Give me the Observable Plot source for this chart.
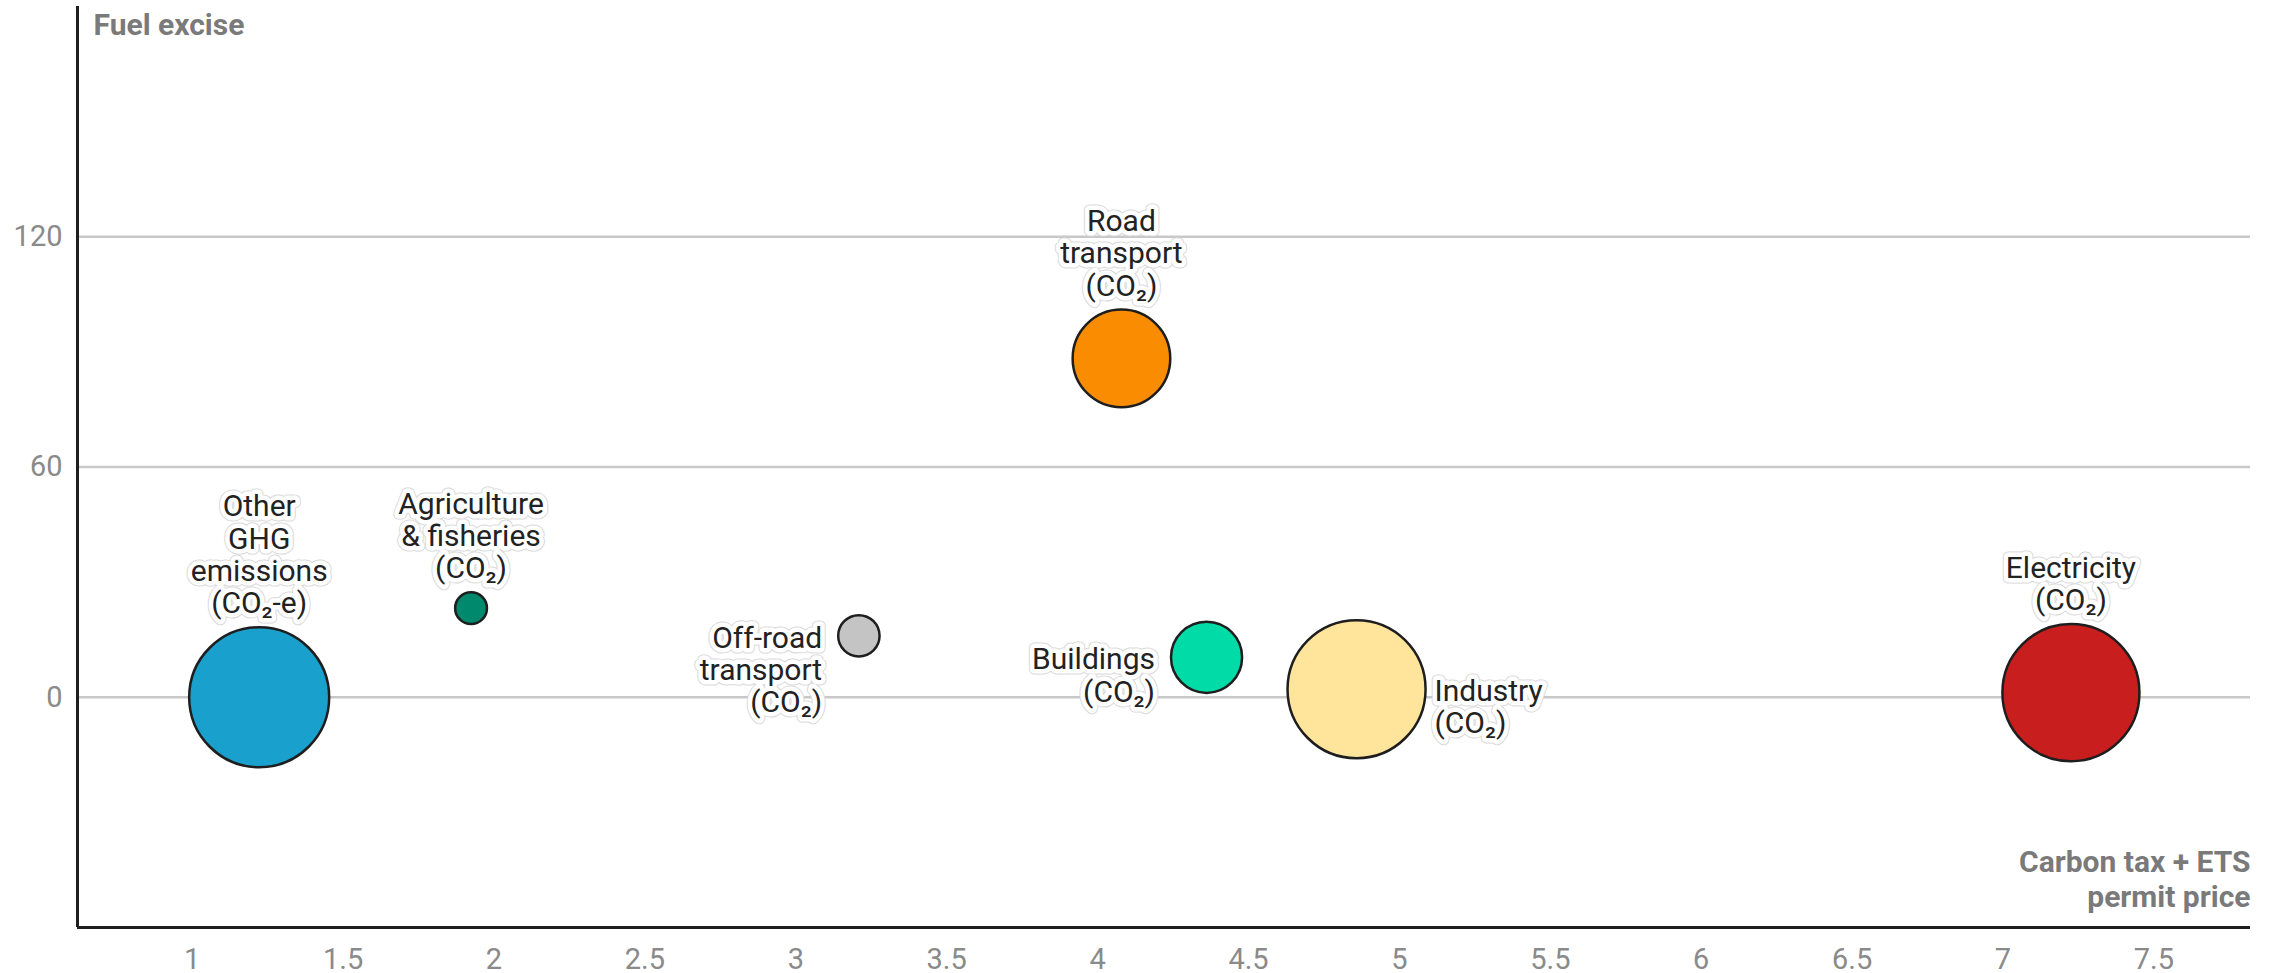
<!DOCTYPE html>
<html><head><meta charset="utf-8">
<script src="https://cdn.jsdelivr.net/npm/d3@7"></script>
<script src="https://cdn.jsdelivr.net/npm/@observablehq/plot@0.6"></script>
<style>
html,body{margin:0;padding:0;background:#fff;}
#chart svg{display:block;}
</style></head><body><div id="chart"></div>
<script>
// ---- data ----
const sectors = ["Other GHG emissions", "Agriculture & fisheries", "Off-road transport", "Buildings", "Industry", "Electricity", "Road transport"];
const labels = ["Other\nGHG\nemissions\n(CO₂-e)", "Agriculture\n& fisheries\n(CO₂)", "Off-road\ntransport\n(CO₂)", "Buildings\n(CO₂)", "Industry\n(CO₂)", "Electricity\n(CO₂)", "Road\ntransport\n(CO₂)"];
const carbonPrice = [1.222, 1.924, 3.209, 4.361, 4.858, 7.225, 4.079];
const fuelExcise = [0, 23.2, 16, 10.4, 2.1, 1.2, 88.3];
const emissions = [50.4, 2.6, 4.4, 13.0, 49.0, 48.3, 24.5];
const colors = ["#1aa0cc", "#00896c", "#c4c4c4", "#00dba8", "#ffe49c", "#c81e1e", "#f98c00"];
const labelSide = ["top", "top", "left", "left", "right", "top", "top"];
const xTicks = [1, 1.5, 2, 2.5, 3, 3.5, 4, 4.5, 5, 5.5, 6, 6.5, 7, 7.5];
const yTicks = [0, 60, 120];
const xDomain = [0.62, 7.82];
const yDomain = [-60, 180];
const yTitle = "Fuel excise";
const xTitle = "Carbon tax + ETS\npermit price";

// ---- build ----
const data = sectors.map((s, i) => ({
  sector: s, label: labels[i], x: carbonPrice[i], y: fuelExcise[i],
  size: emissions[i], color: colors[i], side: labelSide[i]
}));
const rMax = 70;
const rDomain = [0, d3.max(emissions)];
const rScale = d3.scaleSqrt().domain(rDomain).range([0, rMax]);
const fmt = d3.format("~g");

const labelMarks = [];
for (const d of data) {
  const r = rScale(d.size);
  let opts;
  if (d.side === "top") opts = {textAnchor: "middle", lineAnchor: "bottom", dx: 0, dy: -(r + 14)};
  else if (d.side === "left") opts = {textAnchor: "end", lineAnchor: "top", dx: -(r + 16), dy: -11};
  else opts = {textAnchor: "start", lineAnchor: "top", dx: r + 9, dy: -11};
  const base = {x: "x", y: "y", text: "label", lineHeight: 1.077, fontSize: 30, ...opts};
  labelMarks.push(Plot.text([d], {...base, fill: "#d8d8d8", stroke: "#d8d8d8", strokeWidth: 11, strokeLinejoin: "round"}));
  labelMarks.push(Plot.text([d], {...base, fill: "#222", stroke: "white", strokeWidth: 9, strokeLinejoin: "round"}));
}

const chart = Plot.plot({
  width: 2271,
  height: 973,
  marginLeft: 77,
  marginRight: 21,
  marginTop: 6,
  marginBottom: 46,
  style: {fontFamily: "Roboto, sans-serif", fontSize: "29px", background: "white", overflow: "visible"},
  x: {domain: xDomain},
  y: {domain: yDomain},
  r: {type: "sqrt", domain: rDomain, range: [0, rMax]},
  marks: [
    Plot.ruleY(yTicks, {stroke: "#c8c8c8", strokeWidth: 2.5}),
    Plot.ruleX([xDomain[0]], {stroke: "#1e1e1e", strokeWidth: 3}),
    Plot.ruleY([yDomain[0]], {stroke: "#1e1e1e", strokeWidth: 3}),
    Plot.axisX({ticks: xTicks, tickFormat: fmt, tickSize: 0, tickPadding: 21, color: "#8a8a8a", label: null, fontSize: 29}),
    Plot.axisY({ticks: yTicks, tickFormat: fmt, tickSize: 0, tickPadding: 15, color: "#8a8a8a", label: null, fontSize: 29}),
    Plot.dot(data, {x: "x", y: "y", r: "size", fill: "color", stroke: "#1e1e1e", strokeWidth: 2.5, fillOpacity: 1}),
    ...labelMarks,
    Plot.text([yTitle], {frameAnchor: "top-left", textAnchor: "start", lineAnchor: "top", dx: 16, dy: 7, fontSize: 30, fontWeight: "bold", fill: "#7a7a7a", stroke: "white", strokeWidth: 8}),
    Plot.text([xTitle], {frameAnchor: "bottom-right", textAnchor: "end", lineAnchor: "bottom", dx: 0, dy: -21, lineHeight: 1.15, fontSize: 30, fontWeight: "bold", fill: "#7a7a7a", stroke: "white", strokeWidth: 8})
  ]
});
document.getElementById("chart").appendChild(chart);
</script>
</body></html>
